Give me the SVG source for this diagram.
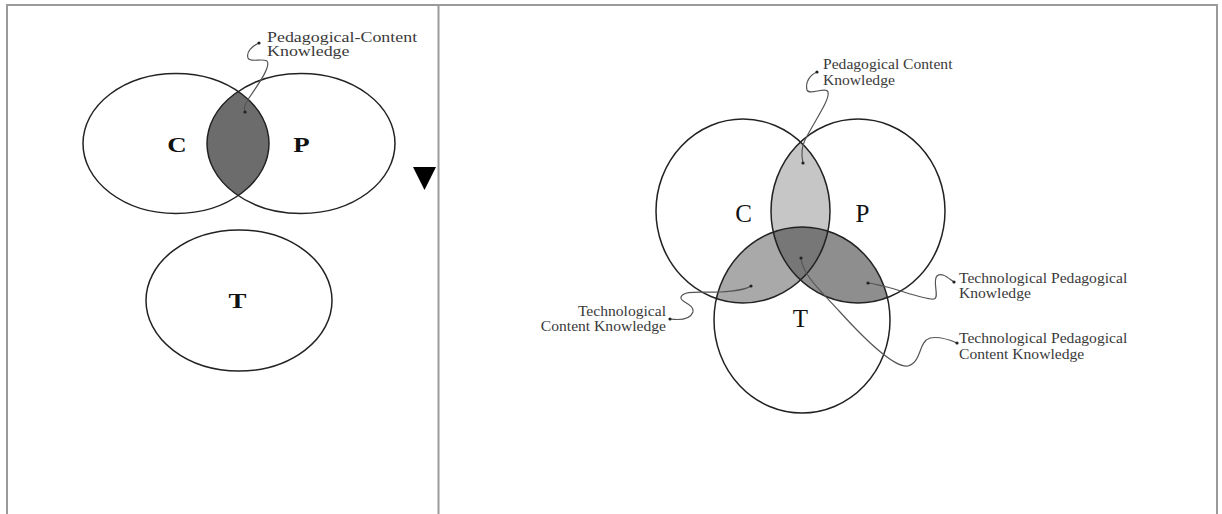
<svg xmlns="http://www.w3.org/2000/svg" width="1222" height="514" viewBox="0 0 1222 514">
<style>
.frame{stroke:#9a9a9a;stroke-width:2;fill:none}
.ring{fill:none;stroke:#222;stroke-width:1.5}
.lead{fill:none;stroke:#555;stroke-width:1.2}
.dot{fill:#222}
.lbl{font-family:"Liberation Serif","Times New Roman",serif;fill:#3a3a3a}
.big{font-family:"Liberation Serif","Times New Roman",serif;fill:#111}
</style>
<defs>
<clipPath id="clipC"><ellipse cx="743" cy="211" rx="87" ry="92"/></clipPath>
<clipPath id="clipP"><ellipse cx="858" cy="211" rx="87" ry="92"/></clipPath>
<clipPath id="clipLC"><ellipse cx="176" cy="143.5" rx="93" ry="70"/></clipPath>
</defs>
<rect width="1222" height="514" fill="#fff"/>
<g id="frame">
<path class="frame" d="M7,514 V5 H1217 V514 M438.5,5 V514"/>
</g>
<g id="marker-triangle"><polygon points="413,167 436,167 424.5,190" fill="#000"/></g>

<g id="left-regions">
<ellipse cx="301" cy="143.5" rx="94" ry="70" fill="#6c6c6c" clip-path="url(#clipLC)"/>
</g>
<g id="left-C">
<ellipse class="ring" cx="176" cy="143.5" rx="93" ry="70"/>
<text class="big" font-weight="bold" font-size="21" text-anchor="middle" transform="translate(177,152) scale(1.28,1)">C</text>
</g>
<g id="left-P">
<ellipse class="ring" cx="301" cy="143.5" rx="94" ry="70"/>
<text class="big" font-weight="bold" font-size="21" text-anchor="middle" transform="translate(301.5,152) scale(1.28,1)">P</text>
</g>
<g id="left-T">
<ellipse class="ring" cx="239" cy="300.5" rx="93" ry="70.5"/>
<text class="big" font-weight="bold" font-size="21" text-anchor="middle" transform="translate(237.5,308) scale(1.28,1)">T</text>
</g>
<g id="left-pck-label">
<text class="lbl" font-size="14" transform="translate(267,42) scale(1.28,1)">Pedagogical-Content</text>
<text class="lbl" font-size="14" transform="translate(267,56) scale(1.28,1)">Knowledge</text>
</g>

<g id="right-regions">
<ellipse cx="858" cy="211" rx="87" ry="92" fill="#c6c6c6" clip-path="url(#clipC)"/>
<ellipse cx="802" cy="320" rx="88" ry="93" fill="#a9a9a9" clip-path="url(#clipC)"/>
<ellipse cx="802" cy="320" rx="88" ry="93" fill="#8e8e8e" clip-path="url(#clipP)"/>
<g clip-path="url(#clipC)"><ellipse cx="802" cy="320" rx="88" ry="93" fill="#777" clip-path="url(#clipP)"/></g>
</g>
<g id="right-C"><ellipse class="ring" cx="743" cy="211" rx="87" ry="92"/>
<text class="big" font-size="25" text-anchor="middle" x="743.5" y="222">C</text></g>
<g id="right-P"><ellipse class="ring" cx="858" cy="211" rx="87" ry="92"/>
<text class="big" font-size="25" text-anchor="middle" x="862.5" y="222">P</text></g>
<g id="right-T"><ellipse class="ring" cx="802" cy="320" rx="88" ry="93"/>
<text class="big" font-size="25" text-anchor="middle" x="800.5" y="327">T</text></g>

<g id="right-labels">
<text class="lbl" font-size="15.6" x="823" y="69">Pedagogical Content</text>
<text class="lbl" font-size="15.6" x="823" y="85">Knowledge</text>
<text class="lbl" font-size="15.6" x="666" y="316" text-anchor="end">Technological</text>
<text class="lbl" font-size="15.6" x="666" y="331" text-anchor="end">Content Knowledge</text>
<text class="lbl" font-size="15.6" x="959" y="283">Technological Pedagogical</text>
<text class="lbl" font-size="15.6" x="959" y="298">Knowledge</text>
<text class="lbl" font-size="15.6" x="959" y="343">Technological Pedagogical</text>
<text class="lbl" font-size="15.6" x="959" y="359">Content Knowledge</text>
</g>

<g id="connectors">
<path class="lead" d="M259,43 C252,46 246,52 248,58 C250,63 262,58 267,61 C271,66 260,82 249,98 C244,105 244,108 245,112"/>
<path class="lead" d="M817,72 C810,75 805,82 807,90 C809,96 826,86 828,92 C830,100 815,120 805,140 C800,150 802,158 803,163"/>
<path class="lead" d="M670,319 C678,320 690,320 693,312 C695,304 679,302 681,297 C684,290 700,293 720,292 C735,291 745,290 751,286"/>
<path class="lead" d="M954,282 C948,278 942,272 937,276 C932,281 940,298 934,299 C925,300 900,290 887,287 C878,285 872,283 868,283"/>
<path class="lead" d="M957,343 C950,340 940,336 930,338 C918,342 922,362 908,366 C895,368 870,345 840,312 C818,288 803,275 801,258"/>
<circle class="dot" cx="259" cy="43" r="1.6"/>
<circle class="dot" cx="245" cy="112" r="1.6"/>
<circle class="dot" cx="817" cy="72" r="1.6"/>
<circle class="dot" cx="803" cy="163" r="1.6"/>
<circle class="dot" cx="670" cy="319" r="1.6"/>
<circle class="dot" cx="751" cy="286" r="1.6"/>
<circle class="dot" cx="954" cy="282" r="1.6"/>
<circle class="dot" cx="868" cy="283" r="1.6"/>
<circle class="dot" cx="957" cy="343" r="1.6"/>
<circle class="dot" cx="801" cy="258" r="1.6"/>
</g>
</svg>
